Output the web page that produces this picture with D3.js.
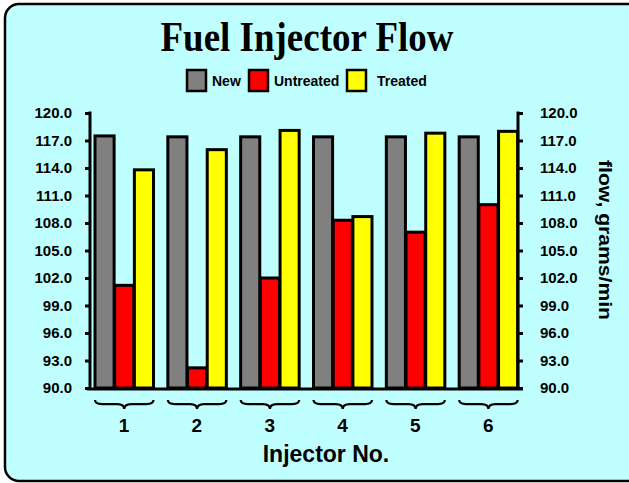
<!DOCTYPE html>
<html>
<head>
<meta charset="utf-8">
<script src="https://cdn.jsdelivr.net/npm/d3@7/dist/d3.min.js"></script>
<style>
  html, body { margin: 0; padding: 0; background: #fff; }
  svg { display: block; }
</style>
</head>
<body>
<div id="chart"></div>
<script>
// data
var injectors = ['1', '2', '3', '4', '5', '6'];
var seriesNames = ['New', 'Untreated', 'Treated'];
var newFlow = [117.5, 117.4, 117.4, 117.4, 117.4, 117.4];
var untreatedFlow = [101.2, 92.2, 102.0, 108.3, 107.0, 110.0];
var treatedFlow = [113.8, 116.0, 118.1, 108.7, 117.8, 118.0];
var yTicks = [90, 93, 96, 99, 102, 105, 108, 111, 114, 117, 120];

var W = 629, H = 483;
var colors = { New: '#808080', Untreated: '#ff0000', Treated: '#ffff00' };
var series = [newFlow, untreatedFlow, treatedFlow];
var rows = injectors.map(function (inj, i) {
  return { inj: inj, vals: seriesNames.map(function (s, j) { return { name: s, v: series[j][i] }; }) };
});

var svg = d3.select('#chart').append('svg').attr('width', W).attr('height', H);

// frame
svg.append('rect').attr('x', 5).attr('y', 4).attr('width', 650).attr('height', 477)
  .attr('rx', 14).attr('fill', '#c0ffff').attr('stroke', '#000').attr('stroke-width', 2.5);

// title
svg.append('text').attr('x', 307).attr('y', 51).attr('text-anchor', 'middle')
  .attr('font-family', '"Liberation Serif", "Times New Roman", serif').attr('font-weight', 'bold')
  .attr('font-size', 42).attr('textLength', 293).attr('lengthAdjust', 'spacingAndGlyphs')
  .text('Fuel Injector Flow');

// legend
var legendX = [187, 249, 347];
var leg = svg.append('g').selectAll('g').data(seriesNames).join('g')
  .attr('transform', function (d, i) { return 'translate(' + legendX[i] + ',70)'; });
leg.append('rect').attr('width', 19).attr('height', 21)
  .attr('fill', function (d) { return colors[d]; }).attr('stroke', '#000').attr('stroke-width', 2.5);
leg.append('text').attr('x', function (d, i) { return i === 2 ? 30 : 25; }).attr('y', 16)
  .attr('font-family', 'Arial, "Liberation Sans", sans-serif').attr('font-weight', 'bold')
  .attr('font-size', 14).text(function (d) { return d; });

// scales
var y = d3.scaleLinear().domain([90, 120]).range([388, 113]);
var x0 = d3.scaleBand().domain(injectors).range([95, 532]).paddingInner(0).paddingOuter(0);
var x1 = d3.scaleBand().domain(seriesNames).range([0, 58.5]).paddingInner(0.03);

// bars
var grp = svg.append('g').selectAll('g').data(rows).join('g')
  .attr('transform', function (d) { return 'translate(' + x0(d.inj) + ',0)'; });
grp.selectAll('rect').data(function (d) { return d.vals; }).join('rect')
  .attr('x', function (d) { return x1(d.name); })
  .attr('y', function (d) { return y(d.v); })
  .attr('width', x1.bandwidth())
  .attr('height', function (d) { return y(90) - y(d.v); })
  .attr('fill', function (d) { return colors[d.name]; })
  .attr('stroke', '#000').attr('stroke-width', 3);

// axes
var font = 'Arial, "Liberation Sans", sans-serif';
function styleAxis(g) {
  g.select('.domain').remove();
  g.selectAll('line').attr('stroke', '#000').attr('stroke-width', 3);
  g.selectAll('text').attr('font-family', font).attr('font-weight', 'bold').attr('font-size', 15).attr('fill', '#000');
}
var left = svg.append('g').attr('transform', 'translate(90,0)')
  .call(d3.axisLeft(y).tickValues(yTicks).tickFormat(d3.format('.1f')).tickSize(5).tickPadding(13));
styleAxis(left);
left.append('line').attr('x1', 0).attr('x2', 0).attr('y1', y(120) - 1.5).attr('y2', y(90))
  .attr('stroke', '#000').attr('stroke-width', 3);

var right = svg.append('g').attr('transform', 'translate(518,0)')
  .call(d3.axisRight(y).tickValues(yTicks).tickFormat(d3.format('.1f')).tickSize(5).tickPadding(17));
styleAxis(right);
right.append('line').attr('x1', 0).attr('x2', 0).attr('y1', y(120) - 1.5).attr('y2', y(90))
  .attr('stroke', '#000').attr('stroke-width', 3);

// x axis line
svg.append('line').attr('x1', 87).attr('x2', 523).attr('y1', y(90) + 1).attr('y2', y(90) + 1)
  .attr('stroke', '#000').attr('stroke-width', 3);

// braces under each group
function bracePath(xa, xb, yt, h) {
  var xm = (xa + xb) / 2, r = 7, ym = yt + h * 0.45;
  return 'M' + xa + ',' + yt +
    ' Q' + xa + ',' + ym + ' ' + (xa + r) + ',' + ym +
    ' L' + (xm - r) + ',' + ym +
    ' Q' + xm + ',' + ym + ' ' + xm + ',' + (yt + h) +
    ' Q' + xm + ',' + ym + ' ' + (xm + r) + ',' + ym +
    ' L' + (xb - r) + ',' + ym +
    ' Q' + xb + ',' + ym + ' ' + xb + ',' + yt;
}
var cat = svg.append('g').selectAll('g').data(injectors).join('g');
cat.append('path')
  .attr('d', function (d) { return bracePath(x0(d), x0(d) + 58.5, 400, 9); })
  .attr('fill', 'none').attr('stroke', '#000').attr('stroke-width', 2.2);
cat.append('text')
  .attr('x', function (d) { return x0(d) + 29; }).attr('y', 432)
  .attr('text-anchor', 'middle').attr('font-family', font).attr('font-weight', 'bold')
  .attr('font-size', 19).text(function (d) { return d; });

// axis titles
svg.append('text').attr('x', 326).attr('y', 462).attr('text-anchor', 'middle')
  .attr('font-family', font).attr('font-weight', 'bold').attr('font-size', 23)
  .text('Injector No.');
svg.append('text').attr('transform', 'translate(599,240) rotate(90)').attr('text-anchor', 'middle')
  .attr('font-family', font).attr('font-weight', 'bold').attr('font-size', 18)
  .attr('textLength', 160).attr('lengthAdjust', 'spacingAndGlyphs')
  .text('flow, grams/min');
</script>
</body>
</html>
